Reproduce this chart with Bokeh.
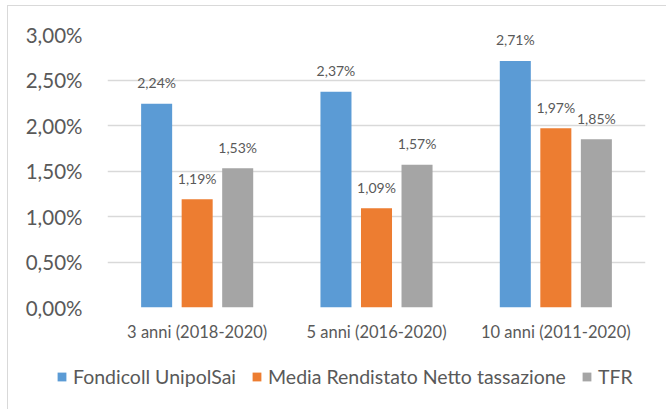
from bokeh.plotting import figure
from bokeh.models import (ColumnDataSource, FactorRange, Range1d, LabelSet, Legend, LegendItem,
                          CustomJSTickFormatter, FixedTicker)
from bokeh.core.properties import value
from bokeh.transform import dodge
from bokeh.embed import file_html
from bokeh.resources import INLINE

categories = ["3 anni (2018-2020)", "5 anni (2016-2020)", "10 anni (2011-2020)"]
fondicoll = [2.24, 2.37, 2.71]
rendistato = [1.19, 1.09, 1.97]
tfr = [1.53, 1.57, 1.85]
series_names = ["Fondicoll UnipolSai", "Media Rendistato Netto tassazione", "TFR"]
y_ticks = [0.0, 0.5, 1.0, 1.5, 2.0, 2.5, 3.0]

colors = ["#5B9BD5", "#ED7D31", "#A5A5A5"]
offsets = [-0.226, 0.0, 0.226]
bar_w = 0.173
FONT = "Lato"
TXT = "#595959"
BORDER = "#D9D9D9"

def fmt(v):
    return f"{v:.2f}".replace(".", ",") + "%"

p = figure(x_range=FactorRange(*categories), y_range=Range1d(0, 3.0),
           width=659, height=341, output_backend="svg", toolbar_location=None,
           min_border_left=99, min_border_right=22, min_border_top=28, min_border_bottom=40)
p.outline_line_color = None
p.background_fill_color = "white"
p.border_fill_color = "white"
p.styles = {"margin-left": "7px", "margin-top": "5px",
            "border-left": f"1px solid {BORDER}", "border-top": f"1px solid {BORDER}"}

for name, vals, col, off in zip(series_names, [fondicoll, rendistato, tfr], colors, offsets):
    src = ColumnDataSource(dict(cat=categories, val=vals, lab=[fmt(v) for v in vals]))
    p.vbar(x=dodge("cat", off, range=p.x_range), top="val", width=bar_w, source=src,
           fill_color=col, line_color=None)
    lbl = LabelSet(x=dodge("cat", off, range=p.x_range), y="val", text="lab", source=src,
                   text_align="center", text_baseline="middle", y_offset=21,
                   text_font=value(FONT), text_font_size=value("14px"), text_color=value(TXT))
    p.add_layout(lbl)

p.yaxis.ticker = FixedTicker(ticks=y_ticks)
p.yaxis.formatter = CustomJSTickFormatter(code="return tick.toFixed(2).replace('.', ',') + '%';")
for ax in (p.xaxis[0], p.yaxis[0]):
    ax.axis_line_color = None
    ax.major_tick_line_color = None
    ax.minor_tick_line_color = None
    ax.major_label_text_font = FONT
    ax.major_label_text_color = TXT
p.yaxis.major_label_text_font_size = "20.5px"
p.yaxis.major_label_standoff = 19
p.xaxis.major_label_text_font_size = "16.5px"
p.xaxis.major_label_standoff = 8

p.xgrid.grid_line_color = None
p.ygrid.grid_line_color = BORDER
p.ygrid.grid_line_width = 1.3

# legend strip: a second root below the chart
lg = figure(x_range=Range1d(0, 1), y_range=Range1d(0, 1), width=659, height=63,
            output_backend="svg", toolbar_location=None, x_axis_type=None, y_axis_type=None,
            min_border=0, min_border_left=0, min_border_right=0, min_border_top=0,
            min_border_bottom=0)
lg.outline_line_color = None
lg.xgrid.visible = False
lg.ygrid.visible = False
lg.styles = {"margin-left": "7px", "border-left": f"1px solid {BORDER}"}
items = []
for name, col in zip(series_names, colors):
    proxy = ColumnDataSource(dict(x=[5.0], top=[0.5]))
    r = lg.vbar(x="x", top="top", width=0.1, source=proxy, fill_color=col, line_color=None)
    items.append(LegendItem(label=name, renderers=[r]))
legend = Legend(items=items, orientation="horizontal", location=(48, 21),
                label_text_font=FONT, label_text_font_size="19.5px", label_text_color=TXT,
                glyph_width=11, glyph_height=11, label_standoff=6, spacing=15,
                padding=0, margin=0, border_line_color=None, background_fill_alpha=0,
                label_height=20)
lg.add_layout(legend, "center")

open("out.html", "w").write(file_html([p, lg], INLINE))
